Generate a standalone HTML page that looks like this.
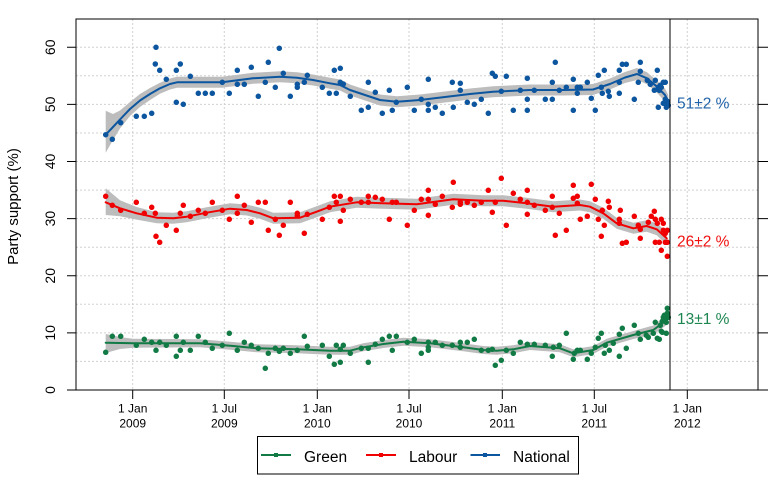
<!DOCTYPE html>
<html><head><meta charset="utf-8"><style>
html,body{margin:0;padding:0;background:#fff;}
svg{display:block;}
text{font-family:"Liberation Sans",Arial,sans-serif;}
</style></head><body>
<svg width="778" height="487" viewBox="0 0 778 487" xmlns="http://www.w3.org/2000/svg">
<rect width="778" height="487" fill="#fff"/>
<!-- grid -->
<g stroke="#d0d0d0" stroke-width="1" stroke-dasharray="2 2" fill="none">
<path d="M76 361.4H758M76 332.9H758M76 304.3H758M76 275.8H758M76 247.2H758M76 218.6H758M76 190.1H758M76 161.5H758M76 133H758M76 104.4H758M76 75.8H758M76 47.3H758"/>
<path d="M132.7 19V390M224.3 19V390M317.3 19V390M409 19V390M502.3 19V390M594.3 19V390M687.3 19V390"/>
</g>
<!-- bands -->
<g fill="#bdbdbd" stroke="none">
<polygon points="105.7,110.7 113,114 120,110.5 130,102 140,94 150,88 160,82.8 170,78.5 177,76.8 222,76.8 253,72.8 280,71.2 297,72.2 313,74.5 330,77.8 340,79.5 350,84.5 365,89.5 380,94.5 397,96.2 420,94.5 447,91.2 470,88.5 493,86.2 530,84.5 563,84.5 593,84 610,78.5 625,72 637,68 647,72.3 657,80.7 665,88.5 668.3,95 668.3,108.5 665,101.5 657,92.7 647,84.3 637,80 625,83 610,89.5 593,95 563,95.5 530,95.5 493,97.2 470,99.5 447,102.2 420,105.5 397,107.2 380,105.5 365,100.5 350,95.5 340,90.5 330,88.8 313,85.5 297,83.2 280,82.2 253,83.8 222,87.8 177,87.8 170,89.5 160,93.8 150,100 140,107 130,116 120,128.5 113,140 105.7,152.7"/>
<polygon points="105.7,188.3 120,200.3 136.7,207 156.7,212.2 173.3,212.8 186.7,211.2 206.7,207.2 230,203.2 246.7,204.5 260,207.8 273.3,212.8 300,212.2 316.7,206.2 330,201.2 356.7,196.8 383.3,197.8 416.7,198.8 453.3,193.8 483.3,195.2 503.3,195.2 526.7,197.8 553.3,201.2 580,199.5 590,201.2 603.3,207.8 616.7,217.8 633.3,222.8 646.7,220.3 656.7,223.3 666.7,231.8 666.7,244.8 656.7,235.3 646.7,231.7 633.3,233.8 616.7,228.8 603.3,218.8 590,212.2 580,210.5 553.3,212.2 526.7,208.8 503.3,206.2 483.3,206.2 453.3,204.8 416.7,209.8 383.3,208.8 356.7,207.8 330,212.2 316.7,217.2 300,223.2 273.3,223.8 260,218.8 246.7,215.5 230,214.2 206.7,218.2 186.7,222.2 173.3,223.8 156.7,223.2 136.7,219.6 120,216.3 105.7,215"/>
<polygon points="105.7,334 120,337 133.3,338.8 200,339.3 233.3,342 256.7,344.3 296.7,345.3 330,346.7 350,346.7 363.3,343.3 383.3,340 403.3,337.7 430,339.3 463.3,343.3 483.3,346 496.7,346.7 513.3,345.3 530,342 560,344.3 573.3,349.3 593.3,346 606.7,338.7 633.3,331 653.3,325.5 666.7,315 666.7,325 653.3,334.5 633.3,339 606.7,346.7 593.3,354 573.3,357.3 560,352.3 530,350 513.3,353.3 496.7,354.7 483.3,354 463.3,351.3 430,347.3 403.3,345.7 383.3,348 363.3,351.3 350,354.7 330,354.7 296.7,353.3 256.7,352.3 233.3,350 200,347.3 133.3,347.8 120,349 105.7,353"/>
</g>
<!-- points -->
<g fill="none" stroke-linecap="round" stroke-width="5.5">
<path stroke="#0c559f" d="M105.7 134.7h0M112.3 139.3h0M120.7 122.7h0M136.3 116.3h0M144.3 116.3h0M151.7 113.3h0M156 47.3h0M155.3 64h0M159.7 70.3h0M166.3 79.3h0M176.3 70.3h0M180.3 64h0M176.3 102.3h0M183.3 104.3h0M190.3 76.3h0M198.3 93.3h0M205.3 93.3h0M212.3 93.3h0M222.3 82.3h0M229.3 93.3h0M237.3 70.3h0M237.3 84.3h0M244.3 84.3h0M251.3 67.3h0M258.3 96.3h0M265.3 82.3h0M268.3 62.3h0M275.3 87.3h0M279.3 48.3h0M283.3 73.3h0M290.3 96.3h0M297.3 84.3h0M297.3 87.3h0M304.3 82.3h0M307.3 75.3h0M322.3 87.3h0M329.3 93.3h0M334.3 70.3h0M336.3 93.3h0M340.3 68.3h0M340.3 82.3h0M343.3 84h0M350.3 96.3h0M361.3 110.3h0M368.3 107.3h0M368.3 82.3h0M375.3 92.3h0M382.3 113.3h0M389.3 90.3h0M392.3 110.3h0M396.3 102.3h0M407.3 87.3h0M414.3 110.3h0M421.3 99.3h0M428.3 79.3h0M428.3 104.3h0M428.3 110.3h0M435.3 107.3h0M442.3 113.3h0M452.3 82.3h0M453.3 107.3h0M460.3 83.3h0M460.3 90.3h0M467.3 102.3h0M474.3 104.3h0M481.3 99.3h0M488.3 113.3h0M492.3 73.3h0M495.3 76.3h0M501.3 91.3h0M506.3 76.3h0M513.3 110.3h0M520.3 90.3h0M527.3 78.3h0M527.3 99.3h0M527.3 110.3h0M534.3 90.3h0M545.3 99.3h0M552.3 82.3h0M552.3 99.3h0M555.3 62.3h0M559.3 90.3h0M566.3 87.3h0M573.3 79.3h0M573.3 110.3h0M577.3 87.3h0M577.3 93.3h0M580.3 87.3h0M587.3 82.3h0M591.3 98.3h0M595.3 110.3h0M598.3 75.3h0M601.3 87.3h0M602.3 93.3h0M604.3 70.3h0M608.3 91.3h0M609.3 96.3h0M619.3 70.3h0M619.3 93.3h0M619.3 82.3h0M622.3 64.3h0M626.3 64.3h0M634.3 99.3h0M638.3 82.3h0M640.3 62.3h0M640.3 71.3h0M647.3 80.3h0M650.3 84.3h0M655.3 80.3h0M657.3 70.3h0M654.3 90.3h0M658.3 87.3h0M660.3 85.3h0M663.3 82.3h0M665.3 82.3h0M661.3 87.3h0M659.3 90.3h0M665.3 99.3h0M667.3 101.3h0M658.3 107.3h0M666.3 107.3h0M668.3 105.3h0M663.3 103.3h0"/>
<path stroke="#f00000" d="M105.7 196.3h0M112.3 205.3h0M120.7 210.3h0M136.3 202.3h0M144.3 213.3h0M151.7 207.3h0M155.3 213.3h0M156 236.3h0M159.7 242.3h0M166.3 225.3h0M176.3 230.3h0M180.3 213.3h0M183.3 205.3h0M190.3 216.3h0M198.3 210.3h0M205.3 213.3h0M212.3 202.3h0M222.3 210.3h0M229.3 219.3h0M237.3 196.3h0M237.3 213.3h0M244.3 205.3h0M251.3 222.3h0M258.3 202.3h0M265.3 202.3h0M268.3 230.3h0M275.3 219.3h0M279.3 235.3h0M283.3 225.3h0M290.3 202.3h0M297.3 213.3h0M297.3 215.7h0M304.3 233.3h0M307.3 214.3h0M322.3 219.3h0M329.3 207.3h0M334.3 196.3h0M336.3 202.3h0M340.3 196.3h0M340.3 221.3h0M343.3 210.3h0M350.3 199.3h0M361.3 202.3h0M368.3 196.3h0M368.3 202.3h0M375.3 197.3h0M382.3 199.3h0M389.3 219.3h0M392.3 202.3h0M396.3 202.3h0M407.3 225.3h0M414.3 210.3h0M421.3 199.3h0M428.3 190.3h0M428.3 199.3h0M428.3 215.3h0M435.3 204.3h0M442.3 196.3h0M452.3 207.3h0M453.3 182.3h0M460.3 202.3h0M460.3 204.3h0M467.3 202.3h0M474.3 205.3h0M481.3 202.3h0M488.3 190.3h0M492.3 212.3h0M495.3 202.3h0M501.3 178.3h0M506.3 225.3h0M513.3 193.3h0M520.3 199.3h0M527.3 190.3h0M527.3 202.3h0M527.3 214.3h0M534.3 205.3h0M545.3 210.3h0M552.3 196.3h0M552.3 207.3h0M555.3 235.3h0M559.3 213.3h0M566.3 230.3h0M573.3 185.3h0M573.3 198.3h0M577.3 196.3h0M577.3 203.3h0M580.3 219.3h0M587.3 216.3h0M591.3 184.3h0M595.3 199.3h0M598.3 219.3h0M601.3 236.3h0M602.3 210.3h0M604.3 225.3h0M608.3 201.3h0M609.3 207.3h0M619.3 219.3h0M619.3 223.3h0M620.3 210.3h0M622.3 243.3h0M626.3 242.3h0M634.3 216.3h0M638.3 225.3h0M640.3 229.3h0M640.3 238.3h0M648.3 222.3h0M651.3 216.3h0M654.3 211.3h0M655.3 219.3h0M655.3 242.3h0M657.3 223.3h0M659.3 242.3h0M661.3 250.3h0M661.3 219.3h0M663.3 223.3h0M663.3 230.3h0M665.3 233.3h0M667.3 230.3h0M665.3 242.3h0M667.3 242.3h0M667.3 256.3h0"/>
<path stroke="#117a45" d="M105.7 352.3h0M112.3 336.3h0M120.7 336.3h0M136.3 345.3h0M144.3 339.3h0M151.7 342.3h0M156 350.3h0M159.7 342.3h0M166.3 345.3h0M176.3 336.3h0M176.3 356.3h0M180.3 350.3h0M183.3 342.3h0M190.3 350.3h0M198.3 336.3h0M205.3 342.3h0M212.3 348.3h0M222.3 345.3h0M229.3 333.3h0M237.3 350.3h0M244.3 342.3h0M251.3 345.3h0M258.3 348.3h0M265.3 368.3h0M268.3 353.3h0M275.3 348.3h0M279.3 351.3h0M283.3 348.3h0M290.3 353.3h0M297.3 350.3h0M304.3 336.3h0M307.3 346.3h0M322.3 345.3h0M329.3 356.3h0M334.3 364.3h0M336.3 345.3h0M340.3 362.3h0M340.3 349.3h0M343.3 345.3h0M350.3 353.3h0M361.3 348.3h0M368.3 362.3h0M368.3 348.3h0M375.3 344.3h0M382.3 339.3h0M389.3 336.3h0M392.3 350.3h0M396.3 336.3h0M407.3 342.3h0M414.3 339.3h0M421.3 353.3h0M428.3 342.3h0M428.3 347.3h0M428.3 350.3h0M435.3 342.3h0M442.3 345.3h0M452.3 345.3h0M460.3 342.3h0M460.3 347.3h0M467.3 342.3h0M474.3 339.3h0M481.3 350.3h0M488.3 350.3h0M492.3 349.3h0M495.3 365.3h0M501.3 360.3h0M506.3 350.3h0M513.3 353.3h0M520.3 342.3h0M527.3 344.3h0M534.3 344.3h0M545.3 345.3h0M552.3 356.3h0M553.3 347.3h0M559.3 345.3h0M566.3 333.3h0M573.3 359.3h0M574.3 353.3h0M577.3 350.3h0M580.3 350.3h0M587.3 359.3h0M591.3 353.3h0M595.3 347.3h0M598.3 338.3h0M601.3 333.3h0M604.3 353.3h0M605.3 345.3h0M609.3 350.3h0M613.3 343.3h0M619.3 356.3h0M619.3 334.3h0M622.3 328.3h0M626.3 348.3h0M634.3 325.3h0M638.3 333.3h0M640.3 339.3h0M646.3 335.3h0M648.3 337.3h0M653.3 333.3h0M655.3 322.3h0M657.3 338.3h0M659.3 339.3h0M660.3 325.3h0M661.3 331.3h0M662.3 321.3h0M663.3 317.3h0M664.3 315.3h0M665.3 318.3h0M666.3 322.3h0M662.3 332.3h0M666.3 333.3h0M667.3 308.3h0M667.3 313.3h0M668.3 317.3h0"/>
</g>
<!-- smooth lines -->
<g fill="none" stroke-width="2" stroke-linejoin="round" stroke-linecap="round">
<polyline stroke="#0c559f" points="105.7,134.7 113,127 120,119.5 130,109 140,100.5 150,94 160,88.3 170,84 177,82.3 222,82.3 253,78.3 280,76.7 297,77.7 313,80 330,83.3 340,85 350,90 365,95 380,100 397,101.7 420,100 447,96.7 470,94 493,91.7 530,90 563,90 593,89.5 610,84 625,77.5 637,74 647,78.3 657,86.7 665,95 668.3,101.7"/>
<polyline stroke="#f00000" points="105.7,202.3 120,208.3 136.7,213.3 156.7,217.7 173.3,218.3 186.7,216.7 206.7,212.7 230,208.7 246.7,210 260,213.3 273.3,218.3 300,217.7 316.7,211.7 330,206.7 356.7,202.3 383.3,203.3 416.7,204.3 453.3,199.3 483.3,200.7 503.3,200.7 526.7,203.3 553.3,206.7 580,205 590,206.7 603.3,213.3 616.7,223.3 633.3,228.3 646.7,226 656.7,229.3 666.7,238.3"/>
<polyline stroke="#117a45" points="105.7,342.7 120,343 133.3,343.3 200,343.3 233.3,346 256.7,348.3 296.7,349.3 330,350.7 350,350.7 363.3,347.3 383.3,344 403.3,341.7 430,343.3 463.3,347.3 483.3,350 496.7,350.7 513.3,349.3 530,346 560,348.3 573.3,353.3 593.3,350 606.7,342.7 633.3,335 653.3,330 666.7,320"/>
</g>
<!-- axes box -->
<g stroke="#000" stroke-width="1" fill="none">
<rect x="76" y="19" width="682" height="371"/>
<path d="M670 19V390"/>
<path d="M67 390H76M67 332.9H76M67 275.8H76M67 218.6H76M67 161.5H76M67 104.4H76M67 47.3H76"/>
<path d="M758 390H768M758 332.9H768M758 275.8H768M758 218.6H768M758 161.5H768M758 104.4H768M758 47.3H768"/>
<path d="M132.7 390V399M224.3 390V399M317.3 390V399M409 390V399M502.3 390V399M594.3 390V399M687.3 390V399"/>
</g>
<!-- y tick labels -->
<g font-size="14" fill="#000" text-anchor="middle">
<text transform="translate(55,390) rotate(-90)">0</text>
<text transform="translate(55,332.9) rotate(-90)">10</text>
<text transform="translate(55,275.8) rotate(-90)">20</text>
<text transform="translate(55,218.6) rotate(-90)">30</text>
<text transform="translate(55,161.5) rotate(-90)">40</text>
<text transform="translate(55,104.4) rotate(-90)">50</text>
<text transform="translate(55,47.3) rotate(-90)">60</text>
</g>
<text transform="translate(18,206.5) rotate(-90)" font-size="15" text-anchor="middle" fill="#000">Party support (%)</text>
<!-- x tick labels -->
<g font-size="12" fill="#000" text-anchor="middle">
<text x="132.7" y="412.5">1 Jan</text><text x="132.7" y="427.5">2009</text>
<text x="224.3" y="412.5">1 Jul</text><text x="224.3" y="427.5">2009</text>
<text x="317.3" y="412.5">1 Jan</text><text x="317.3" y="427.5">2010</text>
<text x="409" y="412.5">1 Jul</text><text x="409" y="427.5">2010</text>
<text x="502.3" y="412.5">1 Jan</text><text x="502.3" y="427.5">2011</text>
<text x="594.3" y="412.5">1 Jul</text><text x="594.3" y="427.5">2011</text>
<text x="687.3" y="412.5">1 Jan</text><text x="687.3" y="427.5">2012</text>
</g>
<!-- end labels -->
<g font-size="15.5">
<text x="677" y="108.3" fill="#1f62a8">51±2 %</text>
<text x="677" y="246.5" fill="#f01010">26±2 %</text>
<text x="677" y="324" fill="#1d8650">13±1 %</text>
</g>
<!-- legend -->
<rect x="257.5" y="436.5" width="321" height="37.5" fill="#fff" stroke="#000" stroke-width="1"/>
<g stroke-width="2">
<path d="M261 455H291" stroke="#117a45"/>
<path d="M366 455H396" stroke="#f00000"/>
<path d="M470.5 455H500" stroke="#0c559f"/>
</g>
<rect x="274" y="453" width="4" height="4" fill="#117a45"/>
<rect x="379" y="453" width="4" height="4" fill="#f00000"/>
<rect x="483" y="453" width="4" height="4" fill="#0c559f"/>
<g font-size="15.5" fill="#000">
<text x="304" y="462">Green</text>
<text x="409" y="462">Labour</text>
<text x="513" y="462">National</text>
</g>
</svg>
</body></html>
